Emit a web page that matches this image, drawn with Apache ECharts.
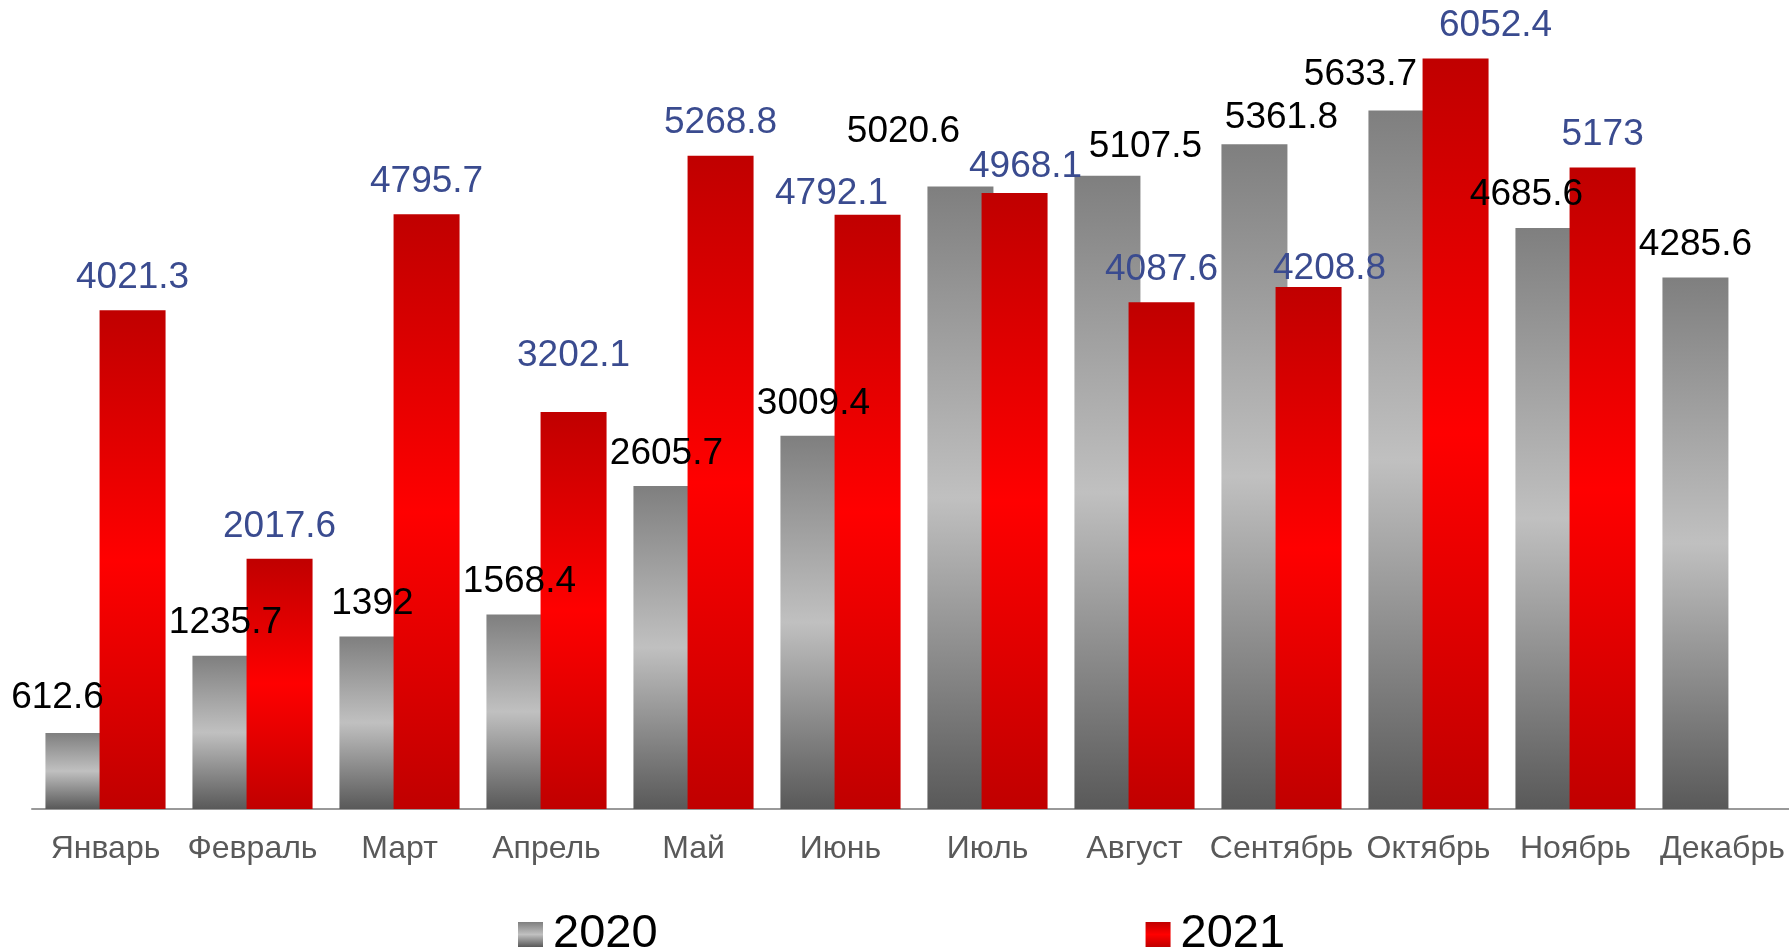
<!DOCTYPE html>
<html>
<head>
<meta charset="utf-8">
<script src="https://cdn.jsdelivr.net/npm/echarts@6/dist/echarts.min.js"></script>
<style>
  html, body { margin: 0; padding: 0; background: #fff; }
  #main { width: 1789px; height: 948px; }
</style>
</head>
<body>
<div id="main"></div>
<script>
// месяцы и значения
const months = ['Январь', 'Февраль', 'Март', 'Апрель', 'Май', 'Июнь', 'Июль', 'Август', 'Сентябрь', 'Октябрь', 'Ноябрь', 'Декабрь']
const values2020 = [612.6, 1235.7, 1392, 1568.4, 2605.7, 3009.4, 5020.6, 5107.5, 5361.8, 5633.7, 4685.6, 4285.6]
const values2021 = [4021.3, 2017.6, 4795.7, 3202.1, 5268.8, 4792.1, 4968.1, 4087.6, 4208.8, 6052.4, 5173, '-']

// сдвиги подписей (как в исходнике, подписи кое-где передвинуты вручную)
const shift2020 = [[-21, -3], [0, 0], [0, 0], [0, 0], [0, 0], [0, 0], [-57, -22], [38, 4], [27, 6], [-41, -3], [-22, -1], [0, 0]]
const shift2021 = [[0, 0], [0, 0], [0, 0], [0, -24], [0, 0], [-36, 12], [11, 6], [0, 0], [21, 14], [40, 0], [0, 0], [0, 0]]

const font = "'Liberation Sans', Arial, sans-serif"

const grayGrad = new echarts.graphic.LinearGradient(0, 0, 0, 1, [
  { offset: 0, color: '#7f7f7f' },
  { offset: 0.5, color: '#c0c0c0' },
  { offset: 1, color: '#595959' },
])
const redGrad = new echarts.graphic.LinearGradient(0, 0, 0, 1, [
  { offset: 0, color: '#c00000' },
  { offset: 0.5, color: '#ff0000' },
  { offset: 1, color: '#c00000' },
])

function withShift(vals, shifts) {
  return vals.map((v, i) => ({ value: v, label: { offset: shifts[i] } }))
}

const myChart = echarts.init(document.getElementById('main'))
var option = {
  animation: false,
  legend: {
    left: 518,
    top: 911,
    padding: 0,
    itemWidth: 25,
    itemHeight: 25,
    itemGap: 488,
    icon: 'rect',
    textStyle: {
      fontFamily: font,
      fontSize: 47,
      color: '#000',
      padding: [0, 0, 0, 5],
    },
    data: ['2020', '2021'],
  },
  grid: {
    left: 32,
    width: 1764,
    top: 3,
    bottom: 139,
    containLabel: false,
    outerBoundsMode: 'none',
  },
  xAxis: {
    type: 'category',
    data: months,
    axisTick: { show: false },
    axisLine: {
      lineStyle: { color: '#999', width: 2 },
    },
    axisLabel: {
      fontFamily: font,
      fontSize: 32,
      color: '#595959',
      margin: 24,
      interval: 0,
    },
  },
  yAxis: {
    type: 'value',
    min: 0,
    max: 6500,
    show: false,
    splitLine: { show: false },
  },
  series: [
    {
      name: '2020',
      type: 'bar',
      barWidth: 66,
      barGap: '-18%',
      itemStyle: { color: grayGrad },
      label: {
        show: true,
        position: 'top',
        distance: 14,
        fontFamily: font,
        fontSize: 37,
        lineHeight: 37,
        color: '#000',
      },
      data: withShift(values2020, shift2020),
    },
    {
      name: '2021',
      type: 'bar',
      barWidth: 66,
      itemStyle: { color: redGrad },
      label: {
        show: true,
        position: 'top',
        distance: 14,
        fontFamily: font,
        fontSize: 37,
        lineHeight: 37,
        color: '#3a4b8f',
      },
      data: withShift(values2021, shift2021),
    },
  ],
}
option && myChart.setOption(option)
</script>
</body>
</html>
